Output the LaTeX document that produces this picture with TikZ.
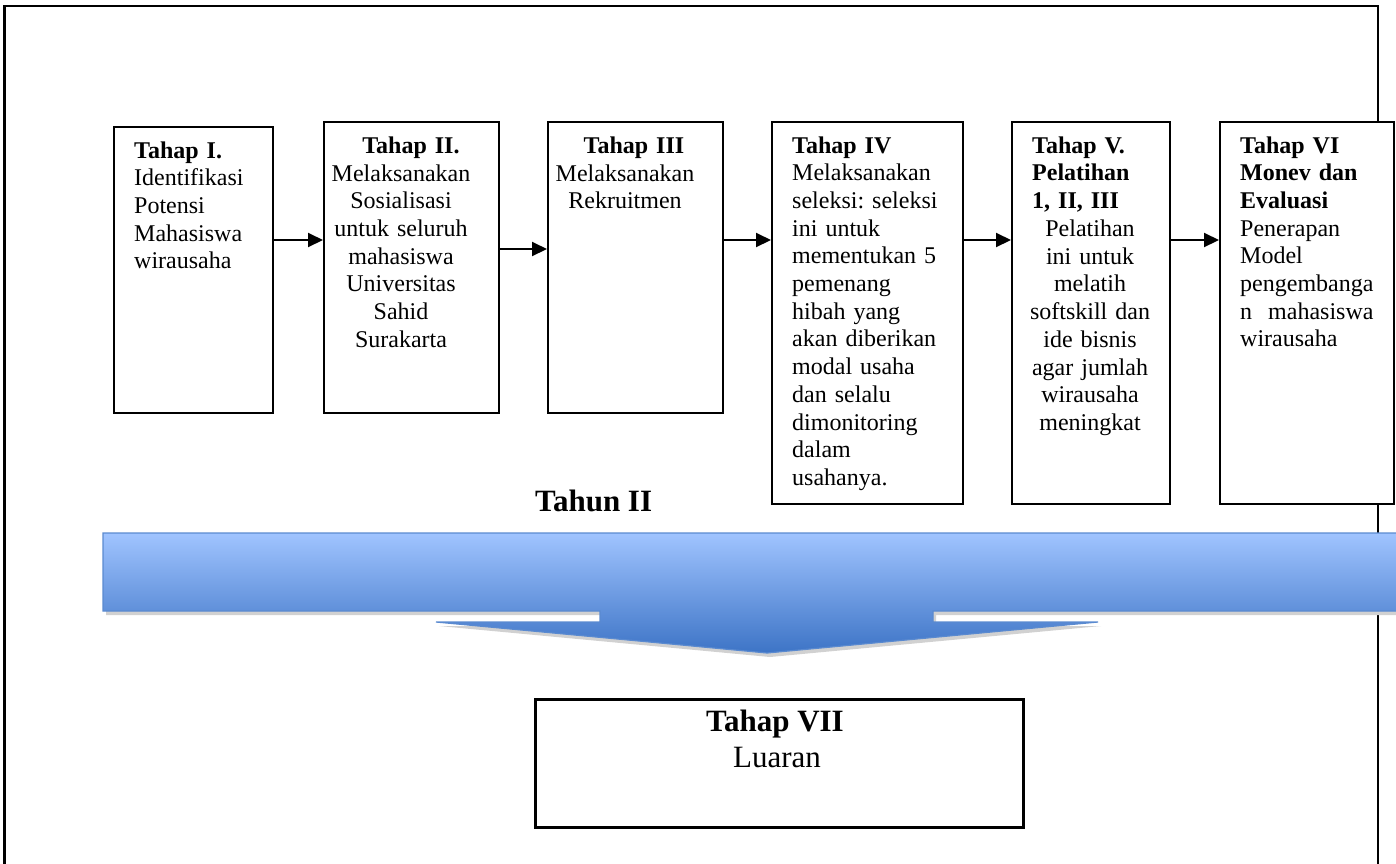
\documentclass[tikz,border=0pt]{standalone}
\usepackage{fontspec}
\setmainfont{Liberation Serif}
\usetikzlibrary{arrows.meta}
\frenchspacing
\definecolor{bartop}{HTML}{A0C4FF}
\definecolor{barbot}{HTML}{3D74C6}
\definecolor{barline}{HTML}{5A8AD0}
\tikzset{
  stagebox/.style={draw=black, line width=2pt, fill=white, rectangle, anchor=north west, inner sep=0pt},
  lefttxt/.style={anchor=base west, inner sep=0pt, align=left, text width=#1,
     font=\fontsize{24pt}{27.7pt}\selectfont},
  ctrtxt/.style={anchor=base, inner sep=0pt, align=center, text width=#1,
     font=\fontsize{24pt}{27.7pt}\selectfont},
  flowarrow/.style={line width=2pt, -{Triangle[length=15pt,width=14pt]}},
}
\begin{document}
\begin{tikzpicture}[x=1pt,y=-1pt]
\useasboundingbox (0,0) rectangle (1396,863);
\clip (0,0) rectangle (1396,863);
% outer frame
\draw[line width=2.5pt] (4.5,870) -- (4.5,6) -- (1378,6) -- (1378,870);
% blue bar arrow (shadow then shape)
\fill[black!18] (106,537) -- (1405,537) -- (1405,615) -- (936,615) -- (936,626) -- (1101,626) -- (770,657) -- (439,626) -- (603,626) -- (603,615) -- (106,615) -- cycle;
\draw[barline, line width=1.2pt, top color=bartop, bottom color=barbot]
  (103,533) -- (1402,533) -- (1402,611) -- (933,611) -- (933,622) -- (1098,622) -- (767,653) -- (436,622) -- (600,622) -- (600,611) -- (103,611) -- cycle;
% stage boxes
\node[stagebox, minimum width=159pt, minimum height=286pt] (b1) at (113,126) {};
\node[stagebox, minimum width=175pt, minimum height=291pt] (b2) at (323,121) {};
\node[stagebox, minimum width=175pt, minimum height=291pt] (b3) at (547,121) {};
\node[stagebox, minimum width=191pt, minimum height=382pt] (b4) at (771,121) {};
\node[stagebox, minimum width=158pt, minimum height=382pt] (b5) at (1011,121) {};
\node[stagebox, minimum width=174pt, minimum height=382pt] (b6) at (1219,121) {};
% texts
\node[lefttxt=140pt] (t1) at (134,158) {\textbf{Tahap I.}\\Identifikasi\\Potensi\\Mahasiswa\\wirausaha};
\node[ctrtxt=170pt] (t2a) at (411,153) {\textbf{Tahap II.}};
\node[ctrtxt=170pt] (t2b) at (401,181) {Melaksanakan\\Sosialisasi\\untuk seluruh\\mahasiswa\\Universitas\\Sahid\\Surakarta};
\node[ctrtxt=170pt] (t3a) at (634,153) {\textbf{Tahap III}};
\node[ctrtxt=170pt] (t3b) at (625,181) {Melaksanakan\\Rekruitmen};
\node[lefttxt=168pt] (t4) at (792,153) {\textbf{Tahap IV}\\Melaksanakan\\seleksi: seleksi\\ini untuk\\mementukan 5\\pemenang\\hibah yang\\akan diberikan\\modal usaha\\dan selalu\\dimonitoring\\dalam\\usahanya.};
\node[lefttxt=140pt] (t5a) at (1032,153) {\textbf{Tahap V.}\\\textbf{Pelatihan}\\\textbf{1, II, III}};
\node[ctrtxt=155pt] (t5b) at (1090,236.5) {Pelatihan\\ini untuk\\melatih\\softskill dan\\ide bisnis\\agar jumlah\\wirausaha\\meningkat};
\node[lefttxt=150pt] (t6) at (1240,153) {\textbf{Tahap VI}\\\textbf{Monev dan}\\\textbf{Evaluasi}\\Penerapan\\Model\\pengembanga\\n\hspace{16pt}mahasiswa\\wirausaha};
% connectors
\coordinate (r1) at (0,240);
\coordinate (r2) at (0,249);
\draw[flowarrow] (b1.east |- r1) -- (b2.west |- r1);
\draw[flowarrow] (b2.east |- r2) -- (b3.west |- r2);
\draw[flowarrow] (b3.east |- r1) -- (b4.west |- r1);
\draw[flowarrow] (b4.east |- r1) -- (b5.west |- r1);
\draw[flowarrow] (b5.east |- r1) -- (b6.west |- r1);
% year label
\node[anchor=base west, inner sep=0pt, font=\fontsize{31pt}{36pt}\selectfont\bfseries] (year) at (535,511) {Tahun II};
% output box
\node[draw=black, line width=2.5pt, rectangle, anchor=north west, inner sep=0pt, minimum width=488pt, minimum height=128pt] (b7) at (534,698) {};
\node[anchor=base, inner sep=0pt, font=\fontsize{31pt}{36pt}\selectfont\bfseries] (t7a) at (775,731) {Tahap VII};
\node[anchor=base, inner sep=0pt, font=\fontsize{31pt}{36pt}\selectfont] (t7b) at (777,767) {Luaran};
\end{tikzpicture}
\end{document}
